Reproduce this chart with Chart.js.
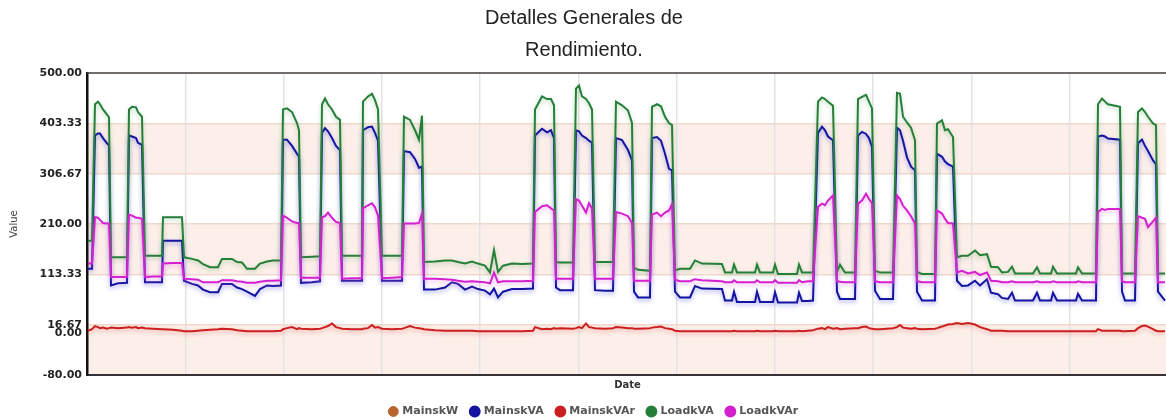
<!DOCTYPE html>
<html>
<head>
<meta charset="utf-8">
<script src="https://cdn.jsdelivr.net/npm/chart.js@4.4.1/dist/chart.umd.min.js"></script>
<style>
  html, body { margin: 0; padding: 0; background: #fff; overflow: hidden; }
  #wrap { width: 1168px; height: 427px; }
</style>
</head>
<body>
<div id="wrap"><canvas id="chart"></canvas></div>
<script>
// ── Data (sample index along the period)
const samples = [
  1, 5, 8, 11, 13, 16, 20, 22, 24, 31, 40, 42, 45, 49, 51, 55, 58, 66, 75, 76,
  86, 95, 97, 105, 111, 116, 123, 131, 135, 145, 150, 155, 160, 168, 173, 180, 186, 194, 196, 200,
  205, 210, 212, 214, 225, 233, 235, 238, 241, 245, 249, 253, 255, 265, 275, 276, 281, 285, 288, 291,
  295, 305, 315, 317, 323, 328, 332, 335, 337, 348, 358, 365, 371, 378, 385, 391, 398, 403, 407, 411,
  416, 425, 435, 446, 448, 455, 460, 464, 467, 469, 473, 486, 489, 492, 495, 499, 502, 505, 508, 518,
  526, 529, 535, 541, 545, 547, 551, 563, 565, 570, 574, 578, 582, 585, 588, 593, 603, 608, 615, 635,
  638, 645, 647, 650, 668, 670, 673, 686, 688, 691, 710, 712, 715, 721, 726, 731, 735, 738, 741, 746,
  750, 753, 758, 768, 771, 775, 779, 782, 785, 788, 793, 806, 810, 813, 816, 820, 824, 828, 830, 835,
  848, 850, 855, 858, 861, 866, 870, 875, 881, 888, 893, 900, 904, 911, 915, 921, 925, 928, 946, 950,
  953, 964, 966, 970, 989, 991, 995, 1009, 1011, 1015, 1018, 1021, 1033, 1035, 1038, 1048, 1051, 1055, 1058, 1061,
  1066, 1069, 1071, 1078
];

const loadKVA = [
  178, 178, 440, 445, 440, 430, 420, 415, 146, 146, 146, 430, 435, 434, 425, 416, 149, 149, 149, 223,
  223, 223, 146, 143, 140, 133, 127, 127, 143, 143, 137, 136, 124, 124, 134, 138, 140, 140, 430, 432,
  425, 404, 390, 146, 147, 148, 440, 451, 440, 430, 416, 410, 149, 149, 149, 445, 455, 460, 448, 430,
  149, 149, 149, 416, 410, 390, 372, 418, 137, 138, 140, 140, 137, 134, 138, 134, 130, 117, 160, 118,
  130, 134, 133, 134, 430, 455, 450, 450, 438, 137, 136, 136, 470, 476, 455, 450, 442, 430, 137, 137,
  137, 445, 438, 428, 404, 126, 122, 120, 435, 440, 436, 416, 404, 400, 121, 124, 124, 140, 134, 133,
  117, 117, 132, 117, 117, 132, 117, 117, 132, 114, 114, 132, 117, 117, 117, 445, 453, 450, 445, 437,
  118, 132, 117, 117, 450, 454, 458, 445, 432, 120, 117, 117, 462, 460, 416, 405, 395, 371, 118, 114,
  114, 403, 409, 390, 392, 377, 146, 149, 149, 159, 150, 152, 128, 127, 117, 118, 128, 115, 115, 127,
  115, 115, 128, 115, 115, 127, 115, 115, 440, 451, 445, 440, 435, 115, 115, 115, 425, 432, 425, 416,
  403, 400, 115, 115
];

const loadKVAr = [
  134, 134, 223, 222, 218, 212, 211, 211, 108, 108, 108, 228, 226, 222, 222, 220, 108, 109, 109, 134,
  135, 135, 105, 104, 103, 98, 98, 98, 102, 102, 100, 99, 97, 97, 99, 101, 101, 102, 226, 222,
  215, 212, 212, 107, 107, 107, 223, 225, 232, 222, 214, 212, 105, 106, 106, 240, 246, 250, 242, 226,
  106, 107, 108, 211, 211, 211, 212, 230, 105, 105, 104, 103, 101, 99, 100, 99, 98, 96, 117, 98,
  100, 100, 100, 101, 233, 244, 246, 240, 236, 105, 105, 105, 258, 255, 245, 232, 250, 240, 105, 105,
  105, 233, 230, 225, 212, 101, 101, 101, 228, 232, 225, 232, 236, 248, 103, 100, 100, 104, 102, 100,
  98, 98, 102, 98, 98, 102, 98, 98, 102, 97, 97, 102, 98, 100, 100, 243, 249, 246, 255, 265,
  100, 99, 98, 98, 249, 255, 268, 258, 250, 100, 98, 98, 265, 258, 245, 236, 225, 211, 100, 98,
  98, 236, 230, 220, 212, 211, 117, 120, 115, 118, 112, 117, 101, 100, 98, 98, 100, 98, 98, 100,
  98, 98, 100, 98, 98, 100, 98, 98, 233, 239, 237, 239, 239, 100, 98, 98, 225, 222, 220, 204,
  215, 222, 98, 98
];

const mainsKVA = [
  124, 124, 380, 384, 384, 375, 365, 361, 92, 96, 97, 380, 378, 375, 366, 362, 98, 98, 98, 178,
  178, 178, 101, 95, 92, 84, 79, 79, 95, 95, 88, 85, 80, 72, 85, 92, 91, 92, 372, 372,
  360, 345, 339, 97, 98, 100, 385, 394, 388, 375, 360, 352, 101, 101, 101, 390, 396, 397, 385, 370,
  101, 101, 101, 350, 348, 335, 318, 320, 84, 84, 88, 98, 95, 84, 90, 85, 82, 75, 86, 69,
  80, 85, 85, 86, 380, 393, 386, 390, 375, 88, 83, 83, 390, 388, 380, 375, 370, 366, 83, 82,
  82, 375, 371, 352, 332, 80, 69, 69, 375, 377, 370, 345, 316, 313, 80, 69, 69, 91, 86, 85,
  63, 63, 80, 60, 60, 80, 60, 60, 79, 59, 59, 78, 62, 62, 63, 385, 397, 390, 378, 371,
  80, 66, 66, 66, 380, 387, 383, 375, 358, 82, 66, 66, 395, 390, 370, 338, 320, 313, 80, 63,
  63, 345, 339, 330, 325, 320, 101, 91, 92, 101, 92, 104, 78, 75, 68, 66, 78, 63, 63, 78,
  63, 63, 78, 63, 63, 76, 63, 63, 378, 380, 378, 374, 372, 80, 63, 63, 365, 372, 360, 350,
  332, 325, 80, 63
];

const mainsKVAr = [
  5, 8, 14, 12, 10, 11, 9, 10, 11, 10, 11, 12, 11, 12, 10, 11, 10, 9, 8, 8,
  7, 5, 4, 4, 5, 6, 7, 8, 9, 8, 6, 5, 4, 4, 4, 4, 4, 5, 8, 10,
  12, 8, 10, 9, 8, 9, 10, 12, 14, 19, 12, 10, 9, 8, 8, 9, 10, 16, 11, 12,
  9, 8, 9, 10, 14, 11, 10, 9, 8, 6, 5, 5, 5, 5, 5, 4, 4, 4, 4, 4,
  4, 4, 4, 5, 12, 8, 9, 8, 10, 9, 10, 9, 10, 12, 10, 19, 12, 11, 10, 9,
  10, 12, 11, 10, 10, 9, 9, 10, 11, 12, 13, 10, 9, 8, 5, 4, 4, 4, 4, 4,
  4, 4, 5, 4, 4, 5, 4, 4, 5, 4, 4, 5, 4, 5, 6, 9, 10, 8, 12, 9,
  10, 8, 9, 10, 10, 12, 13, 10, 9, 8, 8, 10, 12, 16, 11, 10, 9, 10, 9, 8,
  9, 10, 13, 15, 17, 18, 20, 18, 20, 17, 12, 8, 5, 5, 5, 4, 4, 4, 4, 4,
  4, 4, 4, 4, 4, 4, 4, 4, 8, 5, 5, 5, 5, 4, 4, 5, 10, 14, 15, 13,
  8, 5, 4, 4
];

const mainsKW = [];   // listed in the legend, no visible trace

const yTicks = [500, 403.33, 306.67, 210, 113.33, 16.67, 0, -80];
const shadedBands = [[403.33, 306.67], [210, 113.33], [16.67, -80]];

// ── Helpers
const pts = vals => samples.map((t, i) => ({ x: t, y: vals[i] }));
const FONT = 'DejaVu Sans, Verdana, sans-serif';

// pale bands behind the grid
const bandPlugin = {
  id: 'bands',
  beforeDraw(chart) {
    const { ctx, chartArea: a, scales: { y } } = chart;
    ctx.save();
    ctx.fillStyle = '#fcefe9';
    shadedBands.forEach(([hi, lo]) => {
      const y1 = y.getPixelForValue(hi), y2 = y.getPixelForValue(lo);
      ctx.fillRect(a.left, y1, a.right - a.left, y2 - y1);
    });
    ctx.restore();
  }
};

// soft glow under each trace
const shadowPlugin = {
  id: 'lineShadow',
  beforeDatasetDraw(chart, args) {
    const ds = chart.data.datasets[args.index];
    const ctx = chart.ctx;
    ctx.save();
    ctx.shadowColor = ds.glow || 'rgba(0,0,0,0.2)';
    ctx.shadowBlur = 4;
    ctx.shadowOffsetY = 2;
  },
  afterDatasetDraw(chart) { chart.ctx.restore(); }
};

// top frame line + nudge legend a little right
const framePlugin = {
  id: 'frame',
  afterUpdate(chart) {
    chart.legend.left += 10;
    chart.legend.right += 10;
  },
  afterDatasetsDraw(chart) {
    const { ctx, chartArea: a } = chart;
    ctx.save();
    ctx.strokeStyle = '#444';
    ctx.lineWidth = 1.5;
    ctx.beginPath();
    ctx.moveTo(a.left, a.top);
    ctx.lineTo(a.right, a.top);
    ctx.stroke();
    ctx.restore();
  }
};

const line = (label, vals, color, glow, order) => ({
  label, data: pts(vals), borderColor: color, backgroundColor: color, glow, order,
  borderWidth: 2, pointRadius: 0, tension: 0, fill: false,
});

new Chart(document.getElementById('chart'), {
  type: 'line',
  data: {
    datasets: [
      { label: 'MainskW', data: mainsKW, borderColor: '#b8642e', backgroundColor: '#b8642e', order: 4, pointRadius: 0 },
      line('MainskVA', mainsKVA, '#1414a0', 'rgba(90,90,230,0.55)', 2),
      line('MainskVAr', mainsKVAr, '#cc1f1f', 'rgba(230,90,90,0.45)', 3),
      line('LoadkVA', loadKVA, '#267f38', 'rgba(60,150,70,0.35)', 1),
      line('LoadkVAr', loadKVAr, '#d321cf', 'rgba(230,110,230,0.5)', 0),
    ]
  },
  options: {
    responsive: true,
    maintainAspectRatio: false,
    animation: false,
    layout: { padding: 0 },
    plugins: {
      title: {
        display: true,
        text: ['Detalles Generales de', 'Rendimiento.'],
        color: '#222',
        font: { family: 'Liberation Sans, Arial, sans-serif', size: 20, weight: 'normal', lineHeight: 1.6 },
        padding: { top: 2, bottom: 7 },
      },
      legend: {
        position: 'bottom',
        labels: {
          usePointStyle: true, pointStyle: 'circle', boxWidth: 7, boxHeight: 7, padding: 13,
          color: '#555', font: { family: FONT, size: 11, weight: 'bold' },
          sort: (a, b) => a.datasetIndex - b.datasetIndex,
        }
      },
      tooltip: { enabled: false },
    },
    scales: {
      x: {
        type: 'linear', min: 0, max: 1081,
        ticks: { display: false, stepSize: 1081 / 11 },
        grid: { color: '#e3e3e3', lineWidth: 1.5, drawTicks: false },
        border: { color: '#333', width: 2 },
        title: { display: true, text: 'Date', color: '#333', font: { family: FONT, size: 10, weight: 'bold' }, padding: { top: 4, bottom: 2 } },
      },
      y: {
        min: -80, max: 500,
        afterBuildTicks: s => { s.ticks = yTicks.map(v => ({ value: v })); },
        afterFit: s => { s.width = 87; },
        ticks: {
          autoSkip: false, padding: 5, color: '#222',
          font: { family: FONT, size: 11, weight: 'bold' },
          callback: v => Number(v).toFixed(2),
        },
        grid: { color: c => (c.tick && c.tick.value === 0 ? 'rgba(0,0,0,0)' : '#f0d9cc'), lineWidth: 1.5, drawTicks: false },
        border: { color: '#111', width: 2.5 },
        title: { display: true, text: 'Value', color: '#444', font: { family: FONT, size: 10 }, padding: { top: 8, bottom: 0 } },
      }
    }
  },
  plugins: [bandPlugin, shadowPlugin, framePlugin]
});
</script>
</body>
</html>
